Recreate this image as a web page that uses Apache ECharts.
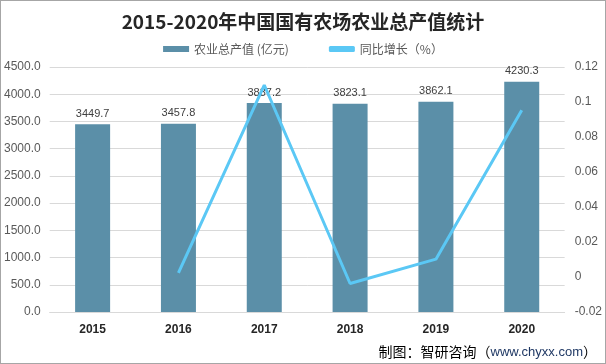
<!DOCTYPE html>
<html><head><meta charset="utf-8">
<script src="https://cdn.jsdelivr.net/npm/echarts@6/dist/echarts.min.js"></script>
<style>html,body{margin:0;padding:0;background:#fff}#c{width:606px;height:364px;box-sizing:border-box;border:1px solid #a6a6a6}</style>
</head><body><div id="c"></div>
<script>
const categories = ['2015','2016','2017','2018','2019','2020'];
const outputValues = [3449.7, 3457.8, 3837.2, 3823.1, 3862.1, 4230.3];
const growthValues = [null, 0.0023, 0.1097, -0.0037, 0.0102, 0.0953];
const leftTicks = [0,500,1000,1500,2000,2500,3000,3500,4000,4500];

const chart = echarts.init(document.getElementById('c'), null, {renderer:'canvas'});
chart.setOption({
  animation:false,
  title:{text:'2015-2020年中国国有农场农业总产值统计',left:'center',top:6,
    textStyle:{fontSize:19,fontWeight:'bold',color:'#262626',fontFamily:'Noto Sans CJK SC'}},
  legend:{top:37,left:'center',itemWidth:26,itemHeight:6,itemGap:40,
    textStyle:{fontSize:12,color:'#595959',fontFamily:'Noto Sans CJK SC'},
    data:[{name:'农业总产值 (亿元)',icon:'rect'},{name:'同比增长（%）',icon:'roundRect'}]},
  grid:{left:46,right:38,top:66,bottom:51},
  xAxis:{type:'category',data:categories,
    axisLine:{lineStyle:{color:'#d9d9d9'}},axisTick:{show:false},
    axisLabel:{color:'#262626',fontWeight:'bold',fontSize:12,margin:12,fontFamily:'Liberation Sans'}},
  yAxis:[{type:'value',min:0,max:4500,interval:500,
    axisLabel:{formatter:v=>v.toFixed(1),color:'#595959',fontSize:12,margin:9,fontFamily:'Liberation Sans'},
    splitLine:{lineStyle:{color:'#d9d9d9'}},axisLine:{show:false},axisTick:{show:false}},
   {type:'value',min:-0.02,max:0.12,interval:0.02,
    axisLabel:{formatter:v=>String(Math.round(v*100)/100),color:'#595959',fontSize:12,margin:10,fontFamily:'Liberation Sans'},
    splitLine:{show:false},axisLine:{show:false},axisTick:{show:false}}],
  series:[{name:'农业总产值 (亿元)',type:'bar',data:outputValues,barWidth:35,
    itemStyle:{color:'#5b8fa8'},
    label:{show:true,position:'top',color:'#404040',fontSize:11,distance:5,fontFamily:'Liberation Sans',formatter:p=>p.value.toFixed(1)}},
   {name:'同比增长（%）',type:'line',yAxisIndex:1,data:growthValues,symbol:'none',
    lineStyle:{color:'#5bc8f5',width:3},itemStyle:{color:'#5bc8f5'}}],
  graphic:[{type:'text',right:8,bottom:4,style:{
    rich:{a:{fontSize:14,fill:'#000',fontFamily:'Noto Sans CJK SC'},b:{fontSize:13,fill:'#1f3864',fontFamily:'Liberation Sans'}},
    text:'{a|制图：智研咨询（}{b|www.chyxx.com}{a|）}'}}]
});
</script></body></html>
